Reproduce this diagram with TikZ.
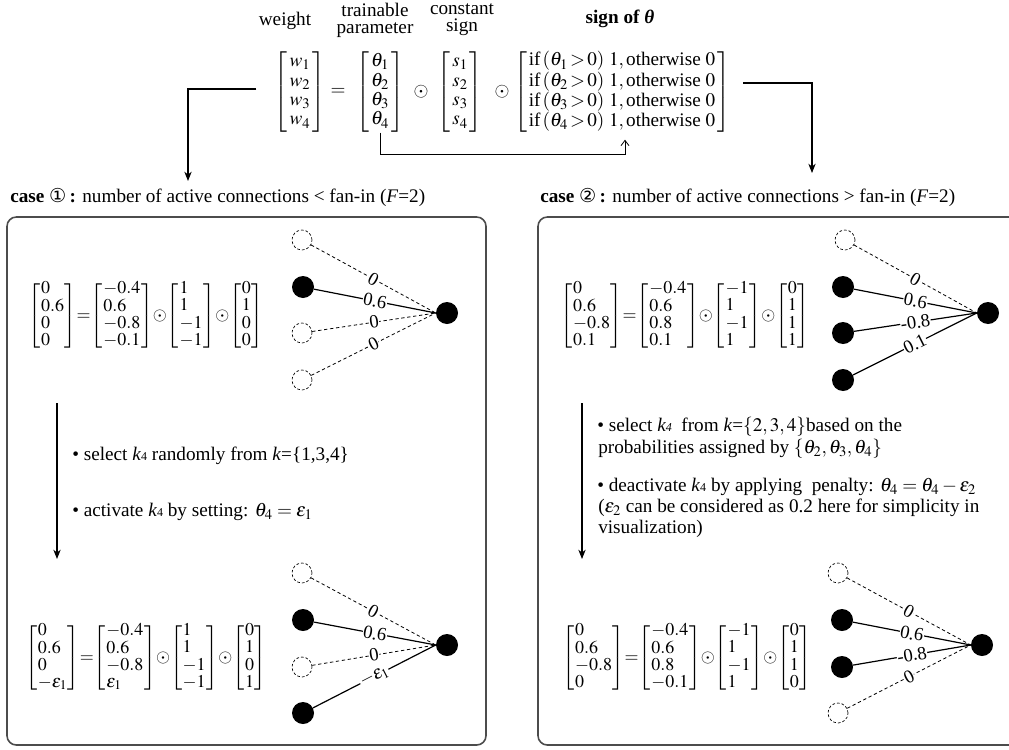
\documentclass[tikz,border=0pt]{standalone}
\usepackage{amsmath}
\usepackage{mathptmx}
\usepackage{fontspec}
\setmainfont{Liberation Serif}
\newfontfamily\symfont{DejaVu Sans}
\usetikzlibrary{arrows.meta}
\newcommand{\cvec}[1]{\left[\begin{array}{@{\hspace{0.5pt}}l@{\hspace{0.5pt}}}#1\end{array}\right]}
\newcommand{\rvec}[1]{\left[\begin{array}{@{\hspace{0.5pt}}r@{\hspace{0.5pt}}}#1\end{array}\right]}
\newcommand{\tight}{\thickmuskip=0mu\medmuskip=0mu\relax}
\newcommand{\kf}{\textit{k}{\small 4}}
\begin{document}
\begin{tikzpicture}[x=0.75pt,y=-0.75pt,
  every node/.style={font=\fontsize{14.4}{15}\selectfont},
  fnode/.style={circle, fill=black, minimum size=16.5pt, inner sep=0pt},
  dnode/.style={circle, draw, dashed, dash pattern=on 2pt off 1.5pt, minimum size=15pt, inner sep=0pt, line width=0.5pt},
  sline/.style={line width=0.9pt},
  dline/.style={dash pattern=on 2.5pt off 2pt, line width=0.6pt},
  elab/.style={sloped, fill=white, inner sep=0.4pt, font=\fontsize{14}{14}\selectfont},
  mat/.style={inner sep=0pt},
  beq/.style={inner sep=0pt, font=\fontsize{13.5}{15}\selectfont},
  txt/.style={anchor=west, inner sep=0pt},
  hdr/.style={align=center, inner sep=0pt, font=\fontsize{14.4}{12.8}\selectfont},
  panel/.style={draw=black!70, line width=1.2pt, rounded corners=7pt},
  arr/.style={-{Stealth[length=7pt,width=5.5pt]}, line width=0.8pt},
  tarr/.style={-{Straight Barb[length=4pt,width=6pt]}, line width=0.6pt}
]
\useasboundingbox (0,0) rectangle (1009,749);

% ---------- top headers ----------
\node[hdr] (hw) at (285,21) {weight};
\node[hdr] (ht) at (375,20) {trainable\\parameter};
\node[hdr] (hc) at (462,20) {constant\\sign};
\node[hdr] (hs) at (620,19) {\bfseries sign of \textit{θ}};

% ---------- top equation ----------
\begingroup
\renewcommand{\arraystretch}{0.97}
\node[mat] (wmat) at (300,92) {$\left[\begin{array}{@{\,}c@{\,}}w_1\\ w_2\\ w_3\\ w_4\end{array}\right]$};
\node[mat] (eq) at (338,92) {$=$};
\node[mat] (thmat) at (380,92) {$\left[\begin{array}{@{\,}c@{\,}}\theta_1\\ \theta_2\\ \theta_3\\ \theta_4\end{array}\right]$};
\node[mat] (od1) at (421,92) {$\odot$};
\node[mat] (smat) at (460,92) {$\left[\begin{array}{@{\,}c@{\,}}s_1\\ s_2\\ s_3\\ s_4\end{array}\right]$};
\node[mat] (od2) at (502,92) {$\odot$};
\node[mat] (sgnmat) at (622,92) {$\thickmuskip=2mu\medmuskip=2mu\left[\begin{array}{@{\hspace{1.5pt}}c@{\hspace{1.5pt}}}
 \text{if}\,(\theta_1>0)\ 1,\text{otherwise }0\\
 \text{if}\,(\theta_2>0)\ 1,\text{otherwise }0\\
 \text{if}\,(\theta_3>0)\ 1,\text{otherwise }0\\
 \text{if}\,(\theta_4>0)\ 1,\text{otherwise }0\end{array}\right]$};
\endgroup

% connectors from top
\coordinate (lc) at (188,181);
\coordinate (rc) at (812,173);
\draw[arr] ([shift={(-18,-3)}]wmat.west) -| (lc);
\draw[arr] ([shift={(13,-9)}]sgnmat.east) -| (rc);
\draw[tarr] (thmat.south) -- ++(0,22) -| ([shift={(3,7)}]sgnmat.south);

% ---------- case labels ----------
\node[txt] (case1) at (10,197) {\textbf{case} {\symfont ①}\,\textbf{:} number of active connections < fan-in (\textit{F}=2)};
\node[txt] (case2) at (540,197) {\textbf{case} {\symfont ②}\,\textbf{:} number of active connections > fan-in (\textit{F}=2)};

% ---------- panels ----------
\draw[panel] (7,217) rectangle (486,745);
\draw[panel] (538,217) rectangle (1030,745);

% ---------- equations ----------
\begingroup
\renewcommand{\arraystretch}{0.84}
\node[beq] (l1eq) at (146,316) {$\tight\cvec{0\\0.6\\0\\0\hphantom{.0}}=\cvec{-0.4\\0.6\\-0.8\\-0.1}\odot\cvec{1\\1\\-1\\-1}\odot\rvec{0\\1\\0\\0}$};
\node[beq] (l2eq) at (146,658) {$\tight\cvec{0\\0.6\\0\\-\varepsilon_1}=\cvec{-0.4\\0.6\\-0.8\\\varepsilon_1}\odot\cvec{1\\1\\-1\\-1}\odot\rvec{0\\1\\0\\1}$};
\node[beq] (r1eq) at (685,316) {$\tight\cvec{0\\0.6\\-0.8\\0.1}=\cvec{-0.4\\0.6\\0.8\\0.1}\odot\cvec{-1\\1\\-1\\1}\odot\rvec{0\\1\\1\\1}$};
\node[beq] (r2eq) at (687,658) {$\tight\cvec{0\\0.6\\-0.8\\0}=\cvec{-0.4\\0.6\\0.8\\-0.1}\odot\cvec{-1\\1\\-1\\1}\odot\rvec{0\\1\\1\\0}$};
\endgroup

% left top network
\node[dnode] (a1) at (302,240) {};
\node[fnode] (a2) at (303,287) {};
\node[dnode] (a3) at (302,333) {};
\node[dnode] (a4) at (302,380) {};
\node[fnode] (at) at (447,313) {};
\draw[dline] (a1) -- node[elab]{0} (at.west);
\draw[sline] (a2) -- node[elab]{0.6} (at.west);
\draw[dline] (a3) -- node[elab]{0} (at.west);
\draw[dline] (a4) -- node[elab]{0} (at.west);

% left arrow and text
\coordinate (la1) at (57,403);
\coordinate (la2) at (57,559);
\draw[arr] (la1) -- (la2);
\node[txt] (lt1) at (72,456) {\textbullet\ select \kf\ randomly from \textit{k}=\{1,3,4\}};
\node[txt] (lt2) at (72,512) {\textbullet\ activate \kf\ by setting: $\theta_4=\varepsilon_1$};

% left bottom network
\node[dnode] (b1) at (302,573) {};
\node[fnode] (b2) at (303,620) {};
\node[dnode] (b3) at (302,667) {};
\node[fnode] (b4) at (303,713) {};
\node[fnode] (bt) at (447,645) {};
\draw[dline] (b1) -- node[elab]{0} (bt.west);
\draw[sline] (b2) -- node[elab]{0.6} (bt.west);
\draw[dline] (b3) -- node[elab]{0} (bt.west);
\draw[sline] (b4) -- node[elab]{$-\varepsilon_1$} (bt.west);

% right top network
\node[dnode] (c1) at (845,240) {};
\node[fnode] (c2) at (843,287) {};
\node[fnode] (c3) at (843,333) {};
\node[fnode] (c4) at (843,380) {};
\node[fnode] (ct) at (988,313) {};
\draw[dline] (c1) -- node[elab]{0} (ct.west);
\draw[sline] (c2) -- node[elab]{0.6} (ct.west);
\draw[sline] (c3) -- node[elab]{-0.8} (ct.west);
\draw[sline] (c4) -- node[elab]{0.1} (ct.west);

% right arrow and text
\coordinate (ra1) at (582,403);
\coordinate (ra2) at (582,559);
\draw[arr] (ra1) -- (ra2);
\node[txt] (rt1) at (597,427) {\textbullet\ select \textit{k{\small 4}}\ \ from \textit{k}=$\{2,3,4\}$based on the};
\node[txt] (rt2) at (598,449) {probabilities assigned by $\{\theta_2,\theta_3,\theta_4\}$};
\node[txt] (rt3) at (597,487) {\textbullet\ deactivate \kf\ by applying\ \ penalty: $\theta_4=\theta_4-\varepsilon_2$};
\node[txt] (rt4) at (598,508) {($\varepsilon_2$ can be considered as 0.2 here for simplicity in};
\node[txt] (rt5) at (598,529) {visualization)};

% right bottom network
\node[dnode] (e1) at (838,573) {};
\node[fnode] (e2) at (842,620) {};
\node[fnode] (e3) at (842,667) {};
\node[dnode] (e4) at (838,713) {};
\node[fnode] (et) at (982,645) {};
\draw[dline] (e1) -- node[elab]{0} (et.west);
\draw[sline] (e2) -- node[elab]{0.6} (et.west);
\draw[sline] (e3) -- node[elab]{-0.8} (et.west);
\draw[dline] (e4) -- node[elab]{0} (et.west);
\end{tikzpicture}
\end{document}
